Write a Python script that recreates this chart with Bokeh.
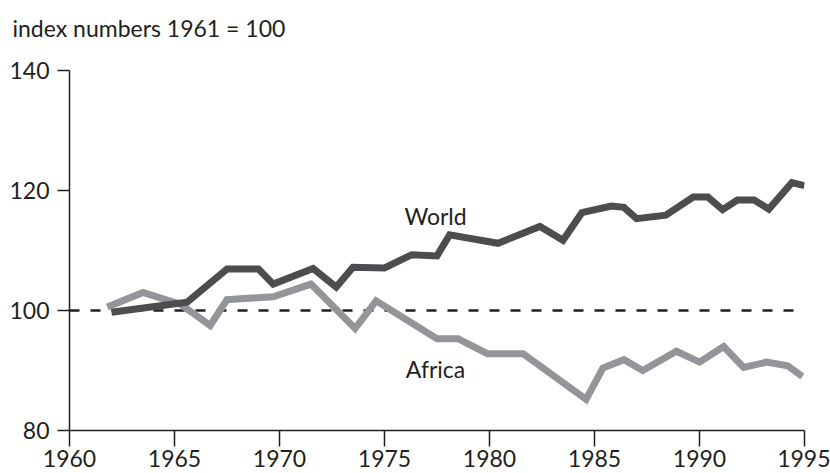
from bokeh.plotting import figure
from bokeh.models import Range1d, FixedTicker, Label, Title
from bokeh.embed import file_html
from bokeh.resources import INLINE

# Data
world_years = [1962.0, 1965.6, 1967.5, 1969.0, 1969.7, 1971.6, 1972.7, 1973.5, 1975.0,
               1976.3, 1977.5, 1978.1, 1980.4, 1982.4, 1983.5, 1984.4, 1985.8, 1986.4,
               1987.0, 1988.4, 1989.7, 1990.4, 1991.1, 1991.8, 1992.6, 1993.3, 1994.4, 1995.0]
world_index = [99.7, 101.4, 106.9, 106.9, 104.4, 107.0, 103.9, 107.2, 107.1,
               109.3, 109.1, 112.6, 111.2, 114.0, 111.7, 116.3, 117.4, 117.2,
               115.3, 115.9, 118.9, 118.9, 116.8, 118.4, 118.4, 116.9, 121.3, 120.8]

africa_years = [1961.8, 1963.5, 1965.3, 1966.7, 1967.5, 1969.7, 1971.5, 1973.6, 1974.6,
                1977.5, 1978.5, 1979.9, 1981.6, 1984.6, 1985.4, 1986.4, 1987.3, 1988.9,
                1990.0, 1991.15, 1992.1, 1993.2, 1994.2, 1994.9]
africa_index = [100.6, 103.0, 101.0, 97.5, 101.8, 102.3, 104.4, 97.0, 101.6,
                95.3, 95.3, 92.8, 92.8, 85.2, 90.4, 91.8, 90.0, 93.2,
                91.4, 94.0, 90.5, 91.4, 90.8, 89.0]

x_ticks = [1960, 1965, 1970, 1975, 1980, 1985, 1990, 1995]
y_ticks = [80, 100, 120, 140]
baseline_x = [1960, 1995]
baseline_y = [100, 100]

title_text = "index numbers 1961 = 100"
world_label = ("World", 1977.43, 115.8)
africa_label = ("Africa", 1977.43, 90.2)

FONT = "Lato"
FONT_SIZE = "23px"
TEXT_COLOR = "#231f20"
WORLD_COLOR = "#4d4d4f"
AFRICA_COLOR = "#939598"

p = figure(width=830, height=473, output_backend="svg", toolbar_location=None,
           x_range=Range1d(1960, 1995), y_range=Range1d(80, 140),
           min_border_left=69, min_border_right=26, min_border_top=70, min_border_bottom=43)

p.outline_line_color = None
p.grid.visible = False
p.background_fill_color = "white"
p.border_fill_color = "white"

# spacer between the plot area and the caption, then the caption itself
spacer = Title(text=" ", text_font_size="10px", standoff=16, text_color="white")
caption = Title(text=title_text, align="left", offset=-57, vertical_align="bottom",
                standoff=0, text_font=FONT, text_font_size=FONT_SIZE,
                text_font_style="normal", text_color=TEXT_COLOR)
p.add_layout(spacer, "above")
p.add_layout(caption, "above")

for ax in (p.xaxis[0], p.yaxis[0]):
    ax.axis_line_color = TEXT_COLOR
    ax.axis_line_width = 1.5
    ax.major_tick_line_color = TEXT_COLOR
    ax.major_tick_line_width = 1.5
    ax.major_tick_in = 0
    ax.minor_tick_line_color = None
    ax.major_label_text_font = FONT
    ax.major_label_text_font_size = FONT_SIZE
    ax.major_label_text_color = TEXT_COLOR

p.xaxis[0].ticker = FixedTicker(ticks=x_ticks)
p.yaxis[0].ticker = FixedTicker(ticks=y_ticks)
p.xaxis[0].major_tick_out = 16
p.yaxis[0].major_tick_out = 12
p.xaxis[0].major_label_standoff = 3
p.yaxis[0].major_label_standoff = 8

p.line(baseline_x, baseline_y, line_color="#231f20", line_width=2.5, line_dash="10 11")

p.line(africa_years, africa_index, line_color=AFRICA_COLOR, line_width=7,
       line_join="miter", line_cap="butt")
p.line(world_years, world_index, line_color=WORLD_COLOR, line_width=7,
       line_join="miter", line_cap="butt")

for txt, lx, ly in (world_label, africa_label):
    p.add_layout(Label(x=lx, y=ly, text=txt, text_align="center", text_baseline="middle",
                       text_font=FONT, text_font_size=FONT_SIZE, text_color=TEXT_COLOR))

open("out.html", "w").write(file_html(p, INLINE))
